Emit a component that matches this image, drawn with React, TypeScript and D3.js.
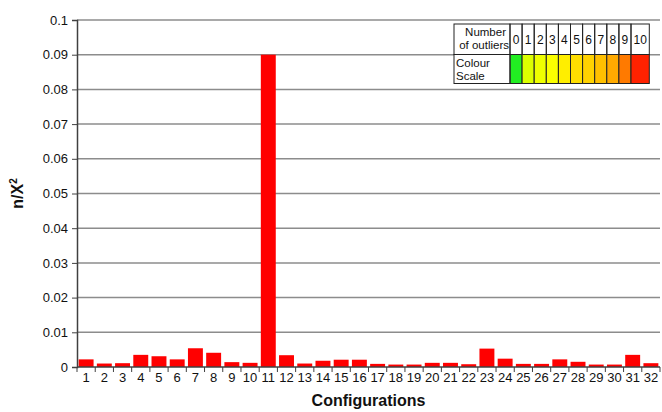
import React, { useEffect, useRef } from "react";
import * as d3 from "d3";

const configurations = d3.range(1, 33).map(String);
const ratios = [
  0.0022, 0.001, 0.0011, 0.0035, 0.0031, 0.0022, 0.0054, 0.0041, 0.0014, 0.0012,
  0.09, 0.0034, 0.001, 0.0018, 0.0021, 0.0021, 0.0009, 0.0007, 0.0007, 0.0012,
  0.0012, 0.0008, 0.0053, 0.0024, 0.0009, 0.0009, 0.0022, 0.0015, 0.0007, 0.0007,
  0.0035, 0.0011,
];
const yTicks = [0, 0.01, 0.02, 0.03, 0.04, 0.05, 0.06, 0.07, 0.08, 0.09, 0.1];
const outlierCounts = ["0", "1", "2", "3", "4", "5", "6", "7", "8", "9", "10"];
const scaleColours = [
  "#22ee22", "#dcff00", "#eeff00", "#fbff00", "#ffee00", "#ffde00",
  "#ffd200", "#ffc000", "#ffaa00", "#ff7a00", "#ff2200",
];

const W = 662;
const H = 412;
const m = { left: 77, right: 2, top: 20, bottom: 45 };
const FONT = "'Liberation Sans', Arial, sans-serif";

export default function App() {
  const ref = useRef<SVGSVGElement>(null);

  useEffect(() => {
    const svg = d3.select(ref.current);
    svg.selectAll("*").remove();

    const x = d3
      .scaleBand()
      .domain(configurations)
      .range([m.left, W - m.right])
      .paddingInner(0.18)
      .paddingOuter(0.09);
    const y = d3.scaleLinear().domain([0, 0.1]).range([H - m.bottom, m.top]);

    // horizontal gridlines
    svg
      .append("g")
      .selectAll("line")
      .data(yTicks.slice(1))
      .join("line")
      .attr("x1", m.left)
      .attr("x2", W - m.right)
      .attr("y1", (d) => y(d))
      .attr("y2", (d) => y(d))
      .attr("stroke", "#8c8c8c")
      .attr("stroke-width", 1.5);

    // bars
    svg
      .append("g")
      .selectAll("rect")
      .data(ratios)
      .join("rect")
      .attr("x", (_, i) => x(configurations[i])!)
      .attr("width", x.bandwidth())
      .attr("y", (d) => y(d))
      .attr("height", (d) => y(0) - y(d))
      .attr("fill", "#ff0000");

    // y axis
    const yAxis = svg
      .append("g")
      .attr("transform", `translate(${m.left},0)`)
      .call(
        d3
          .axisLeft(y)
          .tickValues(yTicks)
          .tickFormat((d) => String(+(+d).toFixed(2)))
          .tickSize(5)
          .tickPadding(4)
      );
    yAxis.select(".domain").attr("stroke", "#404040").attr("stroke-width", 1.5);
    yAxis.selectAll(".tick line").attr("stroke", "#404040");
    yAxis
      .selectAll("text")
      .attr("font-family", FONT)
      .attr("font-size", 13)
      .attr("fill", "#111");

    // x axis: ticks on category boundaries
    const step = x.step();
    const x0 = m.left;
    const xa = svg.append("g");
    xa.append("line")
      .attr("x1", m.left)
      .attr("x2", W - m.right)
      .attr("y1", y(0))
      .attr("y2", y(0))
      .attr("stroke", "#404040")
      .attr("stroke-width", 1.5);
    xa.selectAll("line.b")
      .data(d3.range(0, configurations.length + 1))
      .join("line")
      .attr("class", "b")
      .attr("x1", (i) => x0 + i * step)
      .attr("x2", (i) => x0 + i * step)
      .attr("y1", y(0))
      .attr("y2", y(0) + 5)
      .attr("stroke", "#404040");
    xa.selectAll("text")
      .data(configurations)
      .join("text")
      .attr("x", (d) => x(d)! + x.bandwidth() / 2)
      .attr("y", y(0) + 15)
      .attr("text-anchor", "middle")
      .attr("font-family", FONT)
      .attr("font-size", 13)
      .attr("fill", "#111")
      .text((d) => d);

    // axis titles
    svg
      .append("text")
      .attr("x", (m.left + W - m.right) / 2)
      .attr("y", 406)
      .attr("text-anchor", "middle")
      .attr("font-family", FONT)
      .attr("font-weight", "bold")
      .attr("font-size", 16)
      .attr("fill", "#111")
      .text("Configurations");

    const yt = svg
      .append("text")
      .attr("transform", `translate(23,${(y(0) + y(0.1)) / 2}) rotate(-90)`)
      .attr("text-anchor", "middle")
      .attr("font-family", FONT)
      .attr("font-weight", "bold")
      .attr("font-size", 16)
      .attr("fill", "#111");
    yt.append("tspan").text("n/X");
    yt.append("tspan").attr("font-size", 10).attr("dy", -6).text("2");

    // colour scale table
    const tLeft = 454;
    const labelRight = 510;
    const tTop = 24;
    const tMid = 54.5;
    const tBottom = 83.5;
    const cell = 12.1;
    const lastW = 18.3;
    const colX = (i: number) => labelRight + i * cell;
    const colW = (i: number) => (i === outlierCounts.length - 1 ? lastW : cell);
    const tRight = colX(outlierCounts.length - 1) + lastW;

    const tg = svg.append("g");
    tg.append("rect")
      .attr("x", tLeft)
      .attr("y", tTop)
      .attr("width", tRight - tLeft)
      .attr("height", tBottom - tTop)
      .attr("fill", "#fff");
    tg.selectAll("rect.c")
      .data(scaleColours)
      .join("rect")
      .attr("class", "c")
      .attr("x", (_, i) => colX(i))
      .attr("y", tMid)
      .attr("width", (_, i) => colW(i))
      .attr("height", tBottom - tMid)
      .attr("fill", (d) => d)
      .attr("stroke", "#222")
      .attr("stroke-width", 1);
    tg.selectAll("rect.h")
      .data(outlierCounts)
      .join("rect")
      .attr("class", "h")
      .attr("x", (_, i) => colX(i))
      .attr("y", tTop)
      .attr("width", (_, i) => colW(i))
      .attr("height", tMid - tTop)
      .attr("fill", "none")
      .attr("stroke", "#222")
      .attr("stroke-width", 1);
    tg.append("rect")
      .attr("x", tLeft)
      .attr("y", tTop)
      .attr("width", labelRight - tLeft)
      .attr("height", tMid - tTop)
      .attr("fill", "none")
      .attr("stroke", "#222");
    tg.append("rect")
      .attr("x", tLeft)
      .attr("y", tMid)
      .attr("width", labelRight - tLeft)
      .attr("height", tBottom - tMid)
      .attr("fill", "none")
      .attr("stroke", "#222");
    tg.selectAll("text.n")
      .data(outlierCounts)
      .join("text")
      .attr("class", "n")
      .attr("x", (_, i) => colX(i) + colW(i) / 2)
      .attr("y", (tTop + tMid) / 2 + 4.5)
      .attr("text-anchor", "middle")
      .attr("font-family", FONT)
      .attr("font-size", 12)
      .attr("fill", "#111")
      .text((d) => d);
    const hdr = [
      { t: "Number", x: labelRight - 4, y: tTop + 12, a: "end" },
      { t: "of outliers", x: labelRight - 1, y: tTop + 25, a: "end" },
      { t: "Colour", x: tLeft + 2, y: tMid + 12, a: "start" },
      { t: "Scale", x: tLeft + 2, y: tMid + 25, a: "start" },
    ];
    tg.selectAll("text.l")
      .data(hdr)
      .join("text")
      .attr("class", "l")
      .attr("x", (d) => d.x)
      .attr("y", (d) => d.y)
      .attr("text-anchor", (d) => d.a)
      .attr("font-family", FONT)
      .attr("font-size", 11.5)
      .attr("fill", "#111")
      .text((d) => d.t);
  }, []);

  return (
    <svg
      ref={ref}
      width={W}
      height={H}
      style={{ position: "absolute", left: 0, top: 0, background: "#fff" }}
    />
  );
}
